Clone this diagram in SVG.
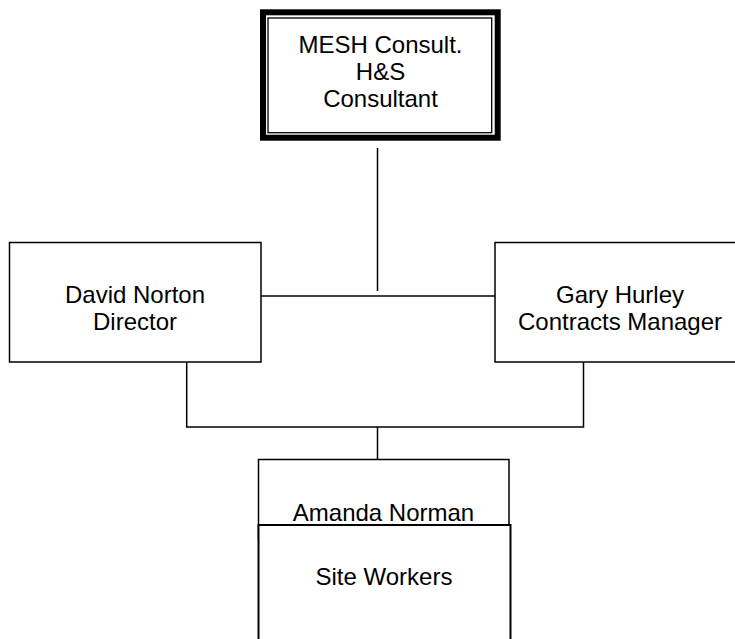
<svg xmlns="http://www.w3.org/2000/svg" width="735" height="639" viewBox="0 0 735 639">
<style>
.box{fill:#fff;stroke:#000;stroke-width:1.5}
.t{font-family:"Liberation Sans",Arial,sans-serif;font-size:24px;fill:#000;text-anchor:middle}
.c{fill:none;stroke:#000;stroke-width:1.5}
</style>
<rect width="735" height="639" fill="#fff"/>
<g id="connectors">
<line class="c" x1="377.5" y1="148" x2="377.5" y2="291"/>
<line class="c" x1="261" y1="296" x2="495" y2="296"/>
<polyline class="c" points="186.7,362 186.7,427 583.5,427 583.5,362"/>
<line class="c" x1="377.5" y1="427" x2="377.5" y2="459.5"/>
</g>
<g id="mesh">
<rect x="263" y="12.3" width="234.7" height="125.4" fill="#fff" stroke="#000" stroke-width="6"/>
<rect x="268" y="18" width="223.7" height="114.7" fill="none" stroke="#000" stroke-width="1.3"/>
<text class="t" x="380.5" y="53">MESH Consult.</text>
<text class="t" x="380.5" y="80">H&amp;S</text>
<text class="t" x="380.5" y="107">Consultant</text>
</g>
<g id="david">
<rect class="box" x="9.5" y="242.5" width="251.5" height="119.5"/>
<text class="t" x="135" y="302.7">David Norton</text>
<text class="t" x="135" y="330">Director</text>
</g>
<g id="gary">
<rect class="box" x="495" y="242.5" width="252" height="119.5"/>
<text class="t" x="620" y="302.7">Gary Hurley</text>
<text class="t" x="620" y="330">Contracts Manager</text>
</g>
<g id="amanda">
<rect class="box" x="258.5" y="459.5" width="250.5" height="80"/>
<text class="t" x="383.5" y="521">Amanda Norman</text>
</g>
<g id="site">
<rect x="258.5" y="525" width="252" height="130" fill="#fff" stroke="#000" stroke-width="2"/>
<text class="t" x="384" y="585">Site Workers</text>
</g>
</svg>
